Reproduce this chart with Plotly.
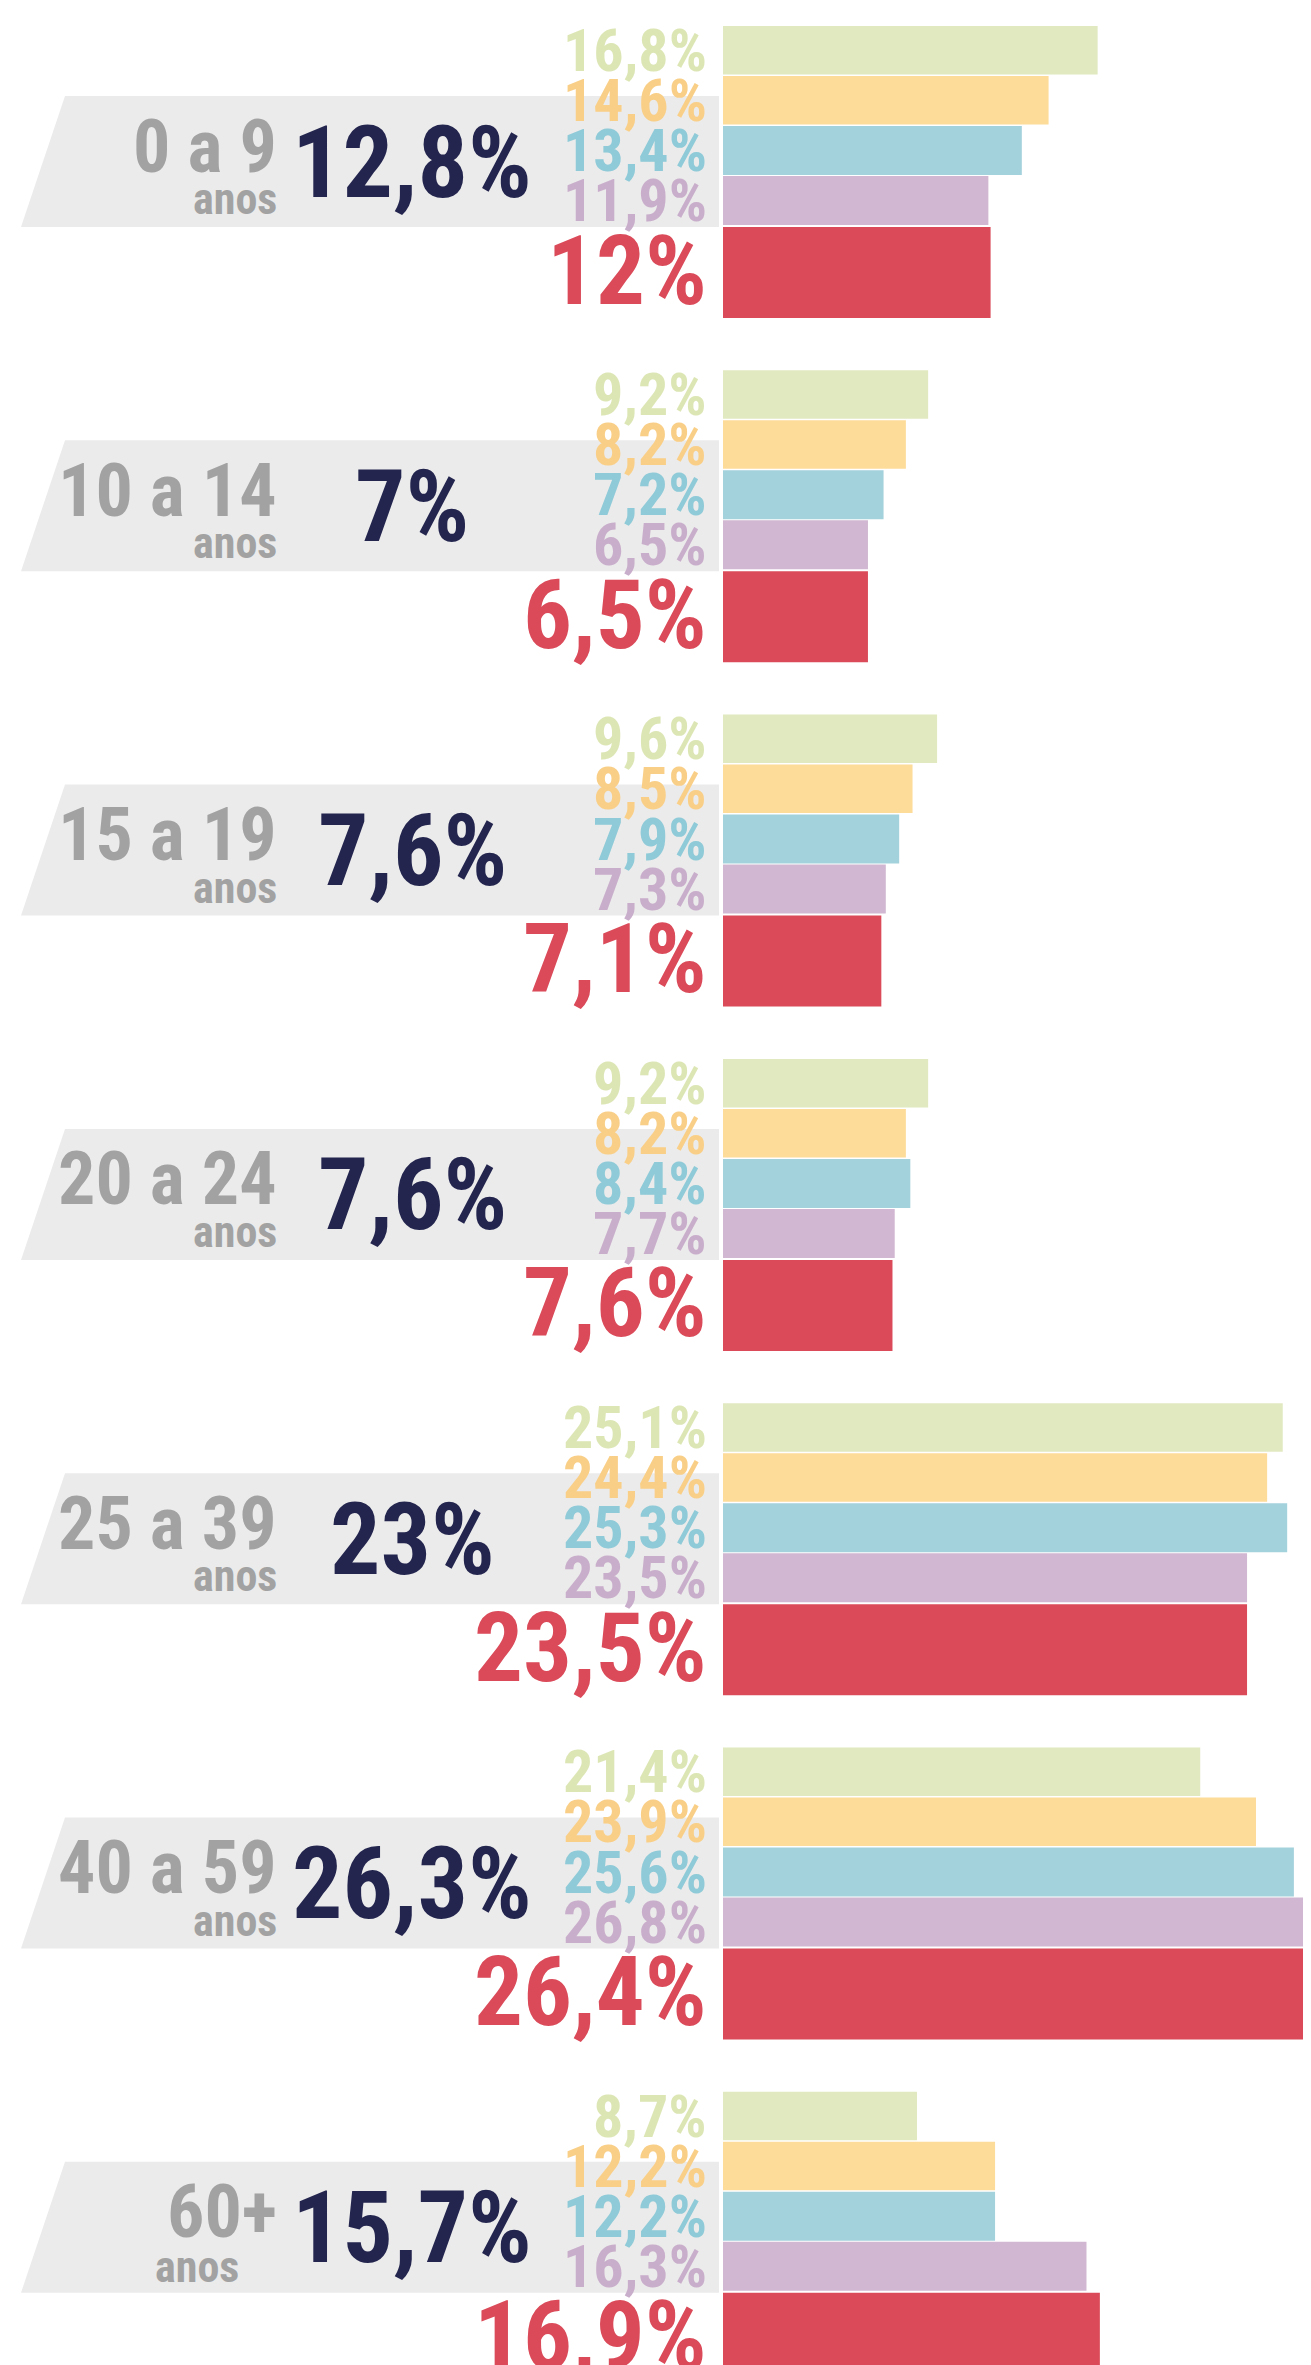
import plotly.graph_objects as go

# ---------------- data ----------------
age_groups = ["0 a 9", "10 a 14", "15 a 19", "20 a 24", "25 a 39", "40 a 59", "60+"]
total_pct = ["12,8%", "7%", "7,6%", "7,6%", "23%", "26,3%", "15,7%"]

serie_1 = [16.8, 9.2, 9.6, 9.2, 25.1, 21.4, 8.7]    # verde
serie_2 = [14.6, 8.2, 8.5, 8.2, 24.4, 23.9, 12.2]   # amarelo
serie_3 = [13.4, 7.2, 7.9, 8.4, 25.3, 25.6, 12.2]   # azul
serie_4 = [11.9, 6.5, 7.3, 7.7, 23.5, 26.8, 16.3]   # lilás
serie_5 = [12.0, 6.5, 7.1, 7.6, 23.5, 26.4, 16.9]   # vermelho (destaque)

series = [serie_1, serie_2, serie_3, serie_4, serie_5]

# ---------------- style ----------------
W, H = 1311, 2365
FONT = "Roboto Condensed, Noto Sans Condensed, Liberation Sans Narrow, Roboto, sans-serif"
bar_colors = ["#e0e9bf", "#fddb98", "#a3d1dc", "#d1b7d1", "#da4a59"]
text_colors = ["#dce6b5", "#f9cf88", "#8ecad7", "#c9aecb", "#da4a59"]
grey = "#a2a2a2"
navy = "#23254e"
band = "#ebebeb"

bar_x0_px = 715
px_per_pct = 22.3
group_top0 = 18
group_pitch = 344.3
# bar centre offsets / heights inside a group (px)
bar_center = [24.25, 74.25, 124.5, 174.5, 246.5]
bar_height = [48.5, 48.5, 49, 49, 91]
label_size = [60, 60, 60, 60, 97]
label_dy = [0, 0, 0, 0, -2]

fig = go.Figure()

for s, vals in enumerate(series):
    ys = [group_top0 + group_pitch * k + bar_center[s] for k in range(len(age_groups))]
    fig.add_trace(go.Bar(
        x=vals, y=ys, base=0, orientation="h", width=bar_height[s],
        marker=dict(color=bar_colors[s], line=dict(width=0)),
        hoverinfo="x", showlegend=False,
    ))

shapes = []
annotations = []
for k, (age, tot) in enumerate(zip(age_groups, total_pct)):
    g = group_top0 + group_pitch * k
    b_top, b_bot = g + 70, g + 201
    shapes.append(dict(
        type="path", xref="paper", yref="y", layer="below",
        path=f"M {57/W},{b_top} L {711/W},{b_top} L {711/W},{b_bot} L {13/W},{b_bot} Z",
        fillcolor=band, line=dict(width=0),
    ))
    # age label
    annotations.append(dict(
        x=271 / W, y=g + 120, xref="paper", yref="y", xanchor="right", yanchor="middle",
        text=age, showarrow=False,
        font=dict(family=FONT, size=74, color=grey, weight="bold"),
    ))
    if age == "60+":
        annotations.append(dict(
            x=145 / W, y=g + 175, xref="paper", yref="y", xanchor="left", yanchor="middle",
            text="anos", showarrow=False,
            font=dict(family=FONT, size=44, color=grey, weight="bold"),
        ))
    else:
        annotations.append(dict(
            x=271 / W, y=g + 173, xref="paper", yref="y", xanchor="right", yanchor="middle",
            text="anos", showarrow=False,
            font=dict(family=FONT, size=44, color=grey, weight="bold"),
        ))
    # total
    annotations.append(dict(
        x=404 / W, y=g + 136, xref="paper", yref="y", xanchor="center", yanchor="middle",
        text=tot, showarrow=False,
        font=dict(family=FONT, size=100, color=navy, weight="bold"),
    ))
    # value labels
    for s, vals in enumerate(series):
        txt = f"{vals[k]:g}".replace(".", ",") + "%"
        annotations.append(dict(
            x=0, y=g + bar_center[s] + label_dy[s], xref="x", yref="y",
            xanchor="right", yanchor="middle", xshift=-14,
            text=txt, showarrow=False,
            font=dict(family=FONT, size=label_size[s], color=text_colors[s], weight="bold"),
        ))

fig.update_layout(
    width=W, height=H,
    margin=dict(l=0, r=0, t=0, b=0),
    paper_bgcolor="white", plot_bgcolor="white",
    barmode="overlay",
    xaxis=dict(domain=[bar_x0_px / W, 1], range=[0, (W - bar_x0_px) / px_per_pct],
               visible=False, fixedrange=True),
    yaxis=dict(range=[H, 0], visible=False, fixedrange=True),
    shapes=shapes, annotations=annotations,
)

fig.write_html("out.html")
